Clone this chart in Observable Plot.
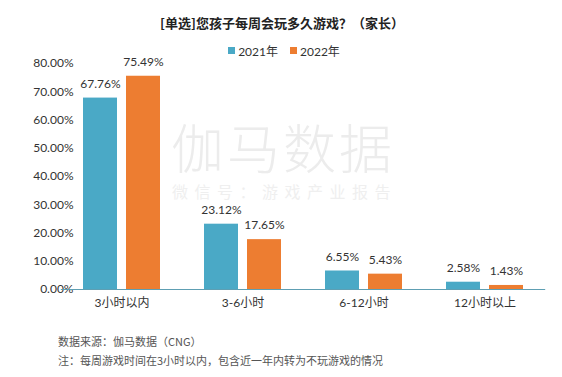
<!DOCTYPE html>
<html>
<head>
<meta charset="utf-8">
<script src="https://cdn.jsdelivr.net/npm/d3@7"></script>
<script src="https://cdn.jsdelivr.net/npm/@observablehq/plot@0.6"></script>
<style>
  body { margin: 0; background: #fff; font-family: Lato, "Noto Sans CJK SC", sans-serif; }
  #wrap { position: relative; width: 562px; height: 377px; overflow: hidden; }
  .abs { position: absolute; white-space: nowrap; }
  #title { top: 13px; left: 0; width: 564px; text-align: center; font-weight: bold; font-size: 13px; color: #222; font-family: "Noto Sans CJK SC", sans-serif; }
  #legend { top: 42px; left: 0; width: 568px; display: flex; justify-content: center; gap: 12px; font-size: 12px; color: #333; }
  #legend .item { display: flex; align-items: center; gap: 3px; }
  #legend .sw { width: 7px; height: 7px; display: inline-block; }
  #wm1 { top: 120px; left: 171px; font-size: 53px; line-height: 1; color: #ececec; letter-spacing: 3px; font-family: "Noto Sans CJK SC", sans-serif; font-weight: 300; }
  #wm2 { top: 183px; left: 172px; font-size: 16px; line-height: 1; color: #efefef; letter-spacing: 6.5px; font-family: "Noto Sans CJK SC", sans-serif; }
  #chart { position: absolute; top: 0; left: 0; }
  .cap { left: 58px; font-size: 11px; color: #555; font-family: "Noto Sans CJK SC", sans-serif; }
</style>
</head>
<body>
<div id="wrap">
  <div class="abs" id="wm1">伽马数据</div>
  <div class="abs" id="wm2">微信号：游戏产业报告</div>
  <div id="chart"></div>
  <div class="abs" id="title"></div>
  <div class="abs" id="legend"></div>
  <div class="abs cap" id="cap1" style="top:333px"></div>
  <div class="abs cap" id="cap2" style="top:352px"></div>
</div>
<script>
const title = "[单选]您孩子每周会玩多久游戏？（家长）";
const categories = ["3小时以内", "3-6小时", "6-12小时", "12小时以上"];
const years = ["2021年", "2022年"];
const values2021 = [67.76, 23.12, 6.55, 2.58];
const values2022 = [75.49, 17.65, 5.43, 1.43];
const yTicks = [0, 10, 20, 30, 40, 50, 60, 70, 80];
const colors = ["#4aa9c6", "#ed7d31"];
const caption1 = "数据来源：伽马数据（CNG）";
const caption2 = "注：每周游戏时间在3小时以内，包含近一年内转为不玩游戏的情况";

const data = [];
categories.forEach((c, i) => {
  data.push({cat: c, year: years[0], value: values2021[i]});
  data.push({cat: c, year: years[1], value: values2022[i]});
});

document.getElementById("title").textContent = title;
document.getElementById("cap1").textContent = caption1;
document.getElementById("cap2").textContent = caption2;
const legend = document.getElementById("legend");
years.forEach((y, i) => {
  const item = document.createElement("span");
  item.className = "item";
  const sw = document.createElement("span");
  sw.className = "sw";
  sw.style.background = colors[i];
  const t = document.createElement("span");
  t.textContent = y;
  item.append(sw, t);
  legend.append(item);
});

const chart = Plot.plot({
  width: 562,
  height: 320,
  marginTop: 63,
  marginBottom: 31,
  marginLeft: 60,
  marginRight: 17,
  style: {background: "transparent", fontSize: "12px", fontFamily: "Lato, 'Noto Sans CJK SC', sans-serif", color: "#333"},
  fx: {domain: categories, paddingInner: 0.348, paddingOuter: 0.174, label: null, axis: "bottom", tickSize: 0, tickPadding: 9},
  x: {domain: years, paddingInner: 0.2045, paddingOuter: 0, axis: null},
  y: {domain: [0, 80], ticks: yTicks, tickFormat: d => d.toFixed(2) + "%", tickSize: 0, tickPadding: 9, label: null},
  color: {domain: years, range: colors},
  marks: [
    Plot.barY(data, {fx: "cat", x: "year", y: "value", fill: "year"}),
    Plot.text(data, {fx: "cat", x: "year", y: "value", text: d => d.value.toFixed(2) + "%", dy: -14, fill: "#333", fontSize: 12}),
    Plot.ruleY([0], {stroke: "#5e9fb3", strokeWidth: 1, insetLeft: -21.2, insetRight: -21.2})
  ]
});
document.getElementById("chart").append(chart);
</script>
</body>
</html>
